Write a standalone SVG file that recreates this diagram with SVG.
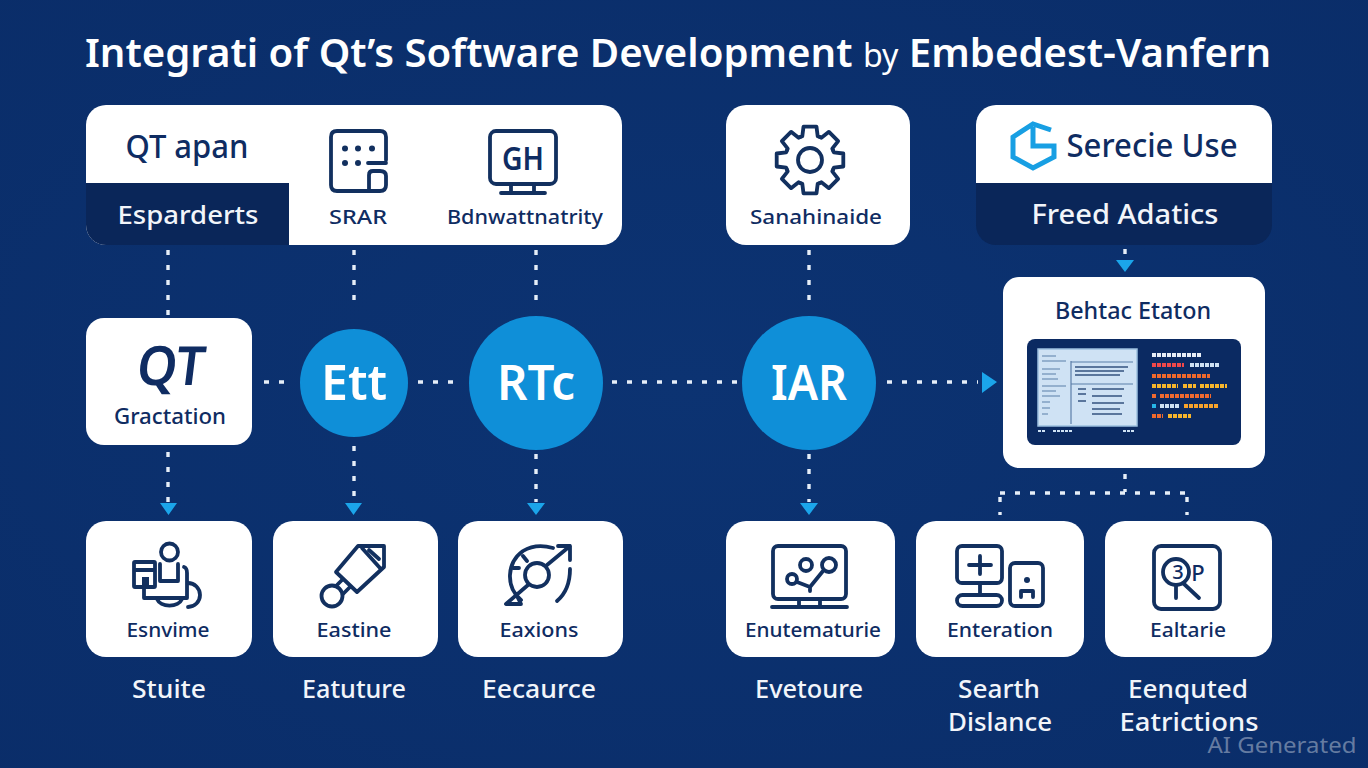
<svg xmlns="http://www.w3.org/2000/svg" width="1368" height="768" viewBox="0 0 1368 768">
<style>
text{font-family:"Noto Sans","Open Sans","Liberation Sans",sans-serif;text-anchor:middle}
.d{fill:#0f2c62}
.l{fill:#f2f5fa}
.card{fill:#fff}
.dark{fill:#0a2659}
.circ{fill:#0f8fd8}
.t18{font-size:20px;font-weight:500}
.cap{font-size:25px;fill:#f2f5fa;font-weight:500}
.big{font-size:48px;font-weight:600;fill:#fff}
.ic{fill:none;stroke:#12305f;stroke-width:3.8;stroke-linecap:round;stroke-linejoin:round}
.icf{fill:#12305f}
.dash{fill:none;stroke:#e6eef8;stroke-width:3.4;stroke-dasharray:5 10}
.arr{fill:#1ba5ea}
</style>
<defs>
<radialGradient id="bg" cx="50%" cy="50%" r="75%"><stop offset="0" stop-color="#0c3372"/><stop offset="1" stop-color="#0a2d69"/></radialGradient>
<path id="tooth" class="ic" d="M-9.600-23.100L-7.700-23.800L-6.500-33.300H6.500L7.700-23.800L9.600-23.100"/>
</defs>
<rect width="1368" height="768" fill="url(#bg)"/>
<text x="678" y="67" font-size="40" font-weight="600" fill="#fff" textLength="1186" lengthAdjust="spacingAndGlyphs">Integrati of Qt’s Software Development <tspan font-weight="400" font-size="32">by</tspan> Embedest-Vanfern</text>

<g id="connectors">
<path class="dash" d="M168 250V316M354 250V310M536 250V306M809 250V306"/>
<path class="dash" d="M168 452V502M354 446V502M536 454V502M809 454V502"/>
<path class="dash" d="M264 382H292M418 382H462M612 382H738M887 382H978"/>
<path class="dash" d="M1125 249V262M1125 474V492M1000 493H1187M1000 497V515M1187 497V515"/>
<path class="arr" d="M160 503H177L168.500 515Z M345 503H362L353.500 515Z M527 503H545L536 515Z M800 503H818L809 515Z M1116 260H1134L1125 272Z M982 372L997 382L982 393Z"/>
</g>

<g id="top-panel">
<rect class="card" x="86" y="105" width="536" height="140" rx="20"/>
<path class="dark" d="M86 183H289V245H106A20 20 0 0 1 86 225Z"/>
<text class="d" x="187" y="158" style="font-size:32px;font-weight:500" textLength="123" lengthAdjust="spacingAndGlyphs">QT apan</text>
<text class="l" x="188" y="224" style="font-size:26px;font-weight:500" textLength="141" lengthAdjust="spacingAndGlyphs">Esparderts</text>
<text class="d t18" x="358" y="224" textLength="58" lengthAdjust="spacingAndGlyphs">SRAR</text>
<text class="d t18" x="525" y="224" textLength="156" lengthAdjust="spacingAndGlyphs">Bdnwattnatrity</text>
<path class="ic" d="M386 160V137Q386 131 380 131H337Q331 131 331 137V185Q331 191 337 191H380Q386 191 386 185V176Q386 171 380 171H373Q369 171 369 175V191M386 163H368"/>
<g class="icf"><circle cx="345" cy="148.500" r="3"/><circle cx="358" cy="148.500" r="3"/><circle cx="372" cy="148.500" r="3"/><circle cx="345" cy="163" r="3"/><circle cx="358" cy="163" r="3"/></g>
<rect class="ic" x="490" y="131" width="66" height="53" rx="6"/>
<path class="ic" d="M511 184V193M534 184V193M501 193H545"/>
<text class="d" x="523" y="170" style="font-size:32px;font-weight:600" textLength="42" lengthAdjust="spacingAndGlyphs">GH</text>
</g>

<g id="sanahinaide">
<rect class="card" x="726" y="105" width="184" height="140" rx="20"/>
<g transform="translate(810 160)">
<use href="#tooth"/><use href="#tooth" transform="rotate(45)"/><use href="#tooth" transform="rotate(90)"/><use href="#tooth" transform="rotate(135)"/><use href="#tooth" transform="rotate(180)"/><use href="#tooth" transform="rotate(225)"/><use href="#tooth" transform="rotate(270)"/><use href="#tooth" transform="rotate(315)"/>
<circle class="ic" r="12"/>
</g>
<text class="d t18" x="816" y="224" textLength="132" lengthAdjust="spacingAndGlyphs">Sanahinaide</text>
</g>

<g id="service-use">
<path class="card" d="M996 105H1252A20 20 0 0 1 1272 125V183H976V125A20 20 0 0 1 996 105Z"/>
<path class="dark" d="M976 183H1272V225A20 20 0 0 1 1252 245H996A20 20 0 0 1 976 225Z"/>
<path fill="none" stroke="#189fe3" stroke-width="5" d="M1051 130L1033 124L1013 137V157L1033 168L1054 157V146H1033V127"/>
<text class="d" x="1152" y="157" style="font-size:32px;font-weight:500" textLength="171" lengthAdjust="spacingAndGlyphs">Serecie Use</text>
<text class="l" x="1125" y="224" style="font-size:27px;font-weight:500" textLength="187" lengthAdjust="spacingAndGlyphs">Freed Adatics</text>
</g>

<g id="behatic-etaton">
<rect class="card" x="1003" y="277" width="262" height="191" rx="16"/>
<text class="d" x="1133" y="319" style="font-size:23px;font-weight:500" textLength="156" lengthAdjust="spacingAndGlyphs">Behtac Etaton</text>
<rect x="1027" y="339" width="214" height="106" rx="8" fill="#0b2a62"/>
<rect x="1038" y="349" width="99" height="77" fill="#cfe2f4" stroke="#9dc0df" stroke-width="1.500"/>
<path fill="none" stroke="#5b7ea8" stroke-width="1.200" d="M1071 361V424M1071 362H1133M1071 384H1133M1042 356H1056M1042 361H1066M1042 369H1060M1042 374H1056M1042 379H1058M1042 386H1066M1042 391H1056M1042 396H1060M1042 402H1050M1042 408H1050M1042 414H1048"/>
<path fill="none" stroke="#34537f" stroke-width="1.600" d="M1075 367H1128M1075 371H1124M1075 375H1120M1078 389H1086M1078 394H1086M1078 401H1086M1092 389H1124M1092 396H1122M1092 403H1124M1092 409H1120M1092 414H1122"/>
<path fill="none" stroke="#cfe2f4" stroke-width="2" stroke-dasharray="3 1" d="M1038 431H1046M1053 431H1073M1123 431H1134"/>
<g fill="none" stroke-width="4" stroke-dasharray="4 1">
<path stroke="#e8eef6" d="M1152 355H1201"/>
<path stroke="#f0484a" d="M1152 365H1184"/><path stroke="#cfe2f4" d="M1190 365H1219"/>
<path stroke="#f0692c" d="M1152 376H1210"/>
<path stroke="#f7b52c" d="M1152 386H1178M1183 386H1196M1200 386H1227"/>
<path stroke="#f06a30" d="M1152 396H1156M1160 396H1211"/>
<path stroke="#26b6e8" d="M1152 406H1157"/><path stroke="#cfe2f4" d="M1160 406H1180"/><path stroke="#f7a32c" d="M1184 406H1219"/>
<path stroke="#f0692c" d="M1152 416H1163"/><path stroke="#f7b52c" d="M1168 416H1191"/>
</g>
</g>

<g id="qt-gractation">
<rect class="card" x="86" y="318" width="166" height="127" rx="18"/>
<text class="d" transform="translate(169 385) skewX(-7)" style="font-size:54px;font-weight:600" textLength="68" lengthAdjust="spacingAndGlyphs">QT</text>
<text class="d" x="170" y="424" style="font-size:22px;font-weight:500" textLength="112" lengthAdjust="spacingAndGlyphs">Gractation</text>
</g>

<g id="ett"><circle class="circ" cx="354" cy="383" r="54"/><text class="big" x="354" y="400" textLength="66" lengthAdjust="spacingAndGlyphs">Ett</text></g>
<g id="rtc"><circle class="circ" cx="536" cy="383" r="67"/><text class="big" x="536" y="400" textLength="78" lengthAdjust="spacingAndGlyphs">RTc</text></g>
<g id="iar"><circle class="circ" cx="809" cy="383" r="67"/><text class="big" x="809" y="400" textLength="76" lengthAdjust="spacingAndGlyphs">IAR</text></g>

<g id="esnvime">
<rect class="card" x="86" y="521" width="166" height="136" rx="20"/>
<circle class="ic" cx="169.500" cy="552" r="8.500"/>
<path class="ic" d="M160 564V581H178V564"/>
<rect class="ic" x="134" y="562" width="21" height="25" rx="1"/>
<path class="ic" d="M135 570H154"/><rect class="icf" x="142" y="577" width="7" height="10"/>
<path class="ic" d="M144 587V598H187M184 567Q187 568 187 573V598"/>
<path class="ic" d="M188 583A12 12 0 1 1 188 607"/>
<path class="ic" d="M157 599A13 9 0 0 0 182 599"/>
<text class="d t18" x="168" y="637" textLength="83" lengthAdjust="spacingAndGlyphs">Esnvime</text>
</g>

<g id="eastine">
<rect class="card" x="273" y="521" width="165" height="136" rx="20"/>
<path class="ic" d="M336 572L358 546H384V567L357 592Z"/>
<path class="ic" d="M362 548L380 568M369 550L379 559"/>
<path class="ic" d="M342 580L336 586M350 587L343 594"/>
<circle class="ic" cx="332" cy="596" r="10.500"/>
<text class="d t18" x="354" y="637" textLength="75" lengthAdjust="spacingAndGlyphs">Eastine</text>
</g>

<g id="eaxions">
<rect class="card" x="458" y="521" width="165" height="136" rx="20"/>
<path class="ic" d="M521 600A31 31 0 0 1 523 551Q536 543 553 548"/>
<path class="ic" d="M570 569Q570 590 557 601"/>
<circle class="ic" cx="537" cy="575" r="12"/>
<path class="ic" d="M547 565L570 546M558 546H570V560"/>
<path class="ic" d="M528 585L506 604M507 604L521 604L516 594M513 568H519M523 556L527 561"/>
<text class="d t18" x="539" y="637" textLength="79" lengthAdjust="spacingAndGlyphs">Eaxions</text>
</g>

<g id="enutematurie">
<rect class="card" x="726" y="521" width="169" height="136" rx="20"/>
<rect class="ic" x="773" y="546" width="73" height="53" rx="5"/>
<path class="ic" d="M799 599V607M820 599V607M772 607H847"/>
<circle class="ic" cx="792" cy="579" r="5"/><circle class="ic" cx="806" cy="565" r="6"/><circle class="ic" cx="829" cy="565" r="7"/>
<path class="ic" d="M797 582L810 587L823 571M810 587V591"/>
<text class="d t18" x="813" y="637" textLength="136" lengthAdjust="spacingAndGlyphs">Enutematurie</text>
</g>

<g id="enteration">
<rect class="card" x="916" y="521" width="168" height="136" rx="20"/>
<rect class="ic" x="957" y="546" width="45" height="37" rx="5"/>
<path class="ic" d="M980 556V574M969 565H991M980 584V594"/>
<rect class="ic" x="957" y="595" width="45" height="11" rx="5.500"/>
<rect class="ic" x="1010" y="563" width="33" height="43" rx="5"/>
<circle class="icf" cx="1027" cy="580" r="3"/>
<path class="ic" d="M1021 597V591H1033V597"/>
<text class="d t18" x="1000" y="637" textLength="106" lengthAdjust="spacingAndGlyphs">Enteration</text>
</g>

<g id="ealtarie">
<rect class="card" x="1105" y="521" width="167" height="136" rx="20"/>
<rect class="ic" x="1154" y="546" width="66" height="63" rx="7"/>
<circle class="ic" cx="1176" cy="572" r="13"/>
<path class="ic" d="M1183 583L1199 598M1176 586V598"/>
<text class="d" x="1178" y="579" style="font-size:20px;font-weight:500">3</text>
<text class="d" x="1198" y="581" style="font-size:22px;font-weight:500">P</text>
<text class="d t18" x="1188" y="637" textLength="76" lengthAdjust="spacingAndGlyphs">Ealtarie</text>
</g>

<g id="captions">
<text class="cap" x="169" y="698" textLength="74" lengthAdjust="spacingAndGlyphs">Stuite</text>
<text class="cap" x="354" y="698" textLength="104" lengthAdjust="spacingAndGlyphs">Eatuture</text>
<text class="cap" x="539" y="698" textLength="114" lengthAdjust="spacingAndGlyphs">Eecaurce</text>
<text class="cap" x="809" y="698" textLength="108" lengthAdjust="spacingAndGlyphs">Evetoure</text>
<text class="cap" x="999" y="698" textLength="82" lengthAdjust="spacingAndGlyphs">Searth</text>
<text class="cap" x="1000" y="731" textLength="104" lengthAdjust="spacingAndGlyphs">Dislance</text>
<text class="cap" x="1188" y="698" textLength="120" lengthAdjust="spacingAndGlyphs">Eenquted</text>
<text class="cap" x="1189" y="731" textLength="139" lengthAdjust="spacingAndGlyphs">Eatrictions</text>
</g>
<text x="1282" y="753" style="font-size:22px;font-weight:400" fill="#fff" fill-opacity=".38" textLength="149" lengthAdjust="spacingAndGlyphs">AI Generated</text>
</svg>
